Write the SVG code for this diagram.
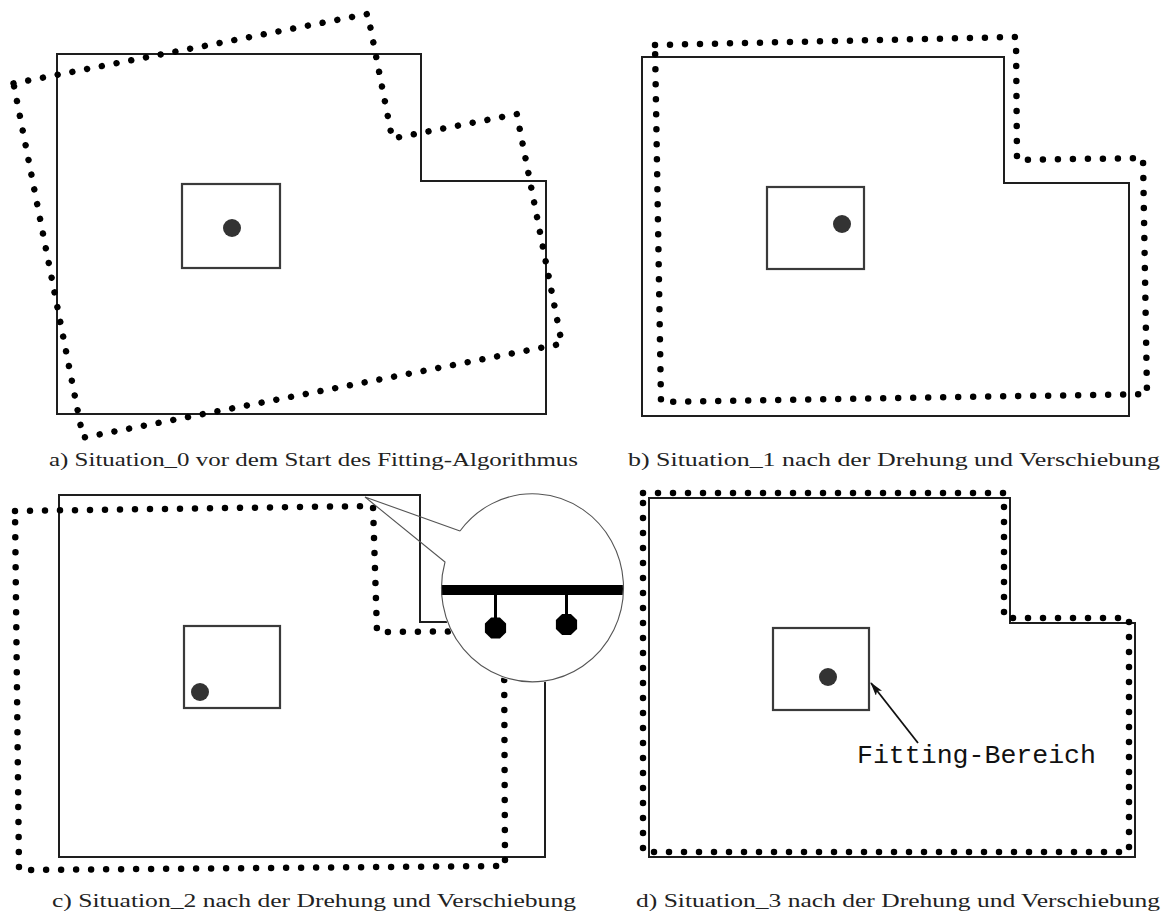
<svg xmlns="http://www.w3.org/2000/svg" width="1168" height="920" viewBox="0 0 1168 920">
  <style>
    .outline { fill: none; stroke: #1e1e1e; stroke-width: 2; }
    .dotted { fill: none; stroke: #000; stroke-width: 6.5; stroke-linecap: round; stroke-linejoin: round; stroke-dasharray: 0 15; }
    .box { fill: none; stroke: #3a3a3a; stroke-width: 2.2; }
    .pt { fill: #333; }
    .caption { font-family: "Liberation Serif", "Times New Roman", serif; font-size: 19px; fill: #222; }
    .label { font-family: "Liberation Mono", "Courier New", monospace; font-size: 25px; fill: #111; }
    .thin { fill: none; stroke: #555; stroke-width: 1.1; }
    .pin { stroke: #000; stroke-width: 3; }
  </style>
  <defs>
    <marker id="head" viewBox="0 0 14 8" refX="13" refY="4" markerWidth="14" markerHeight="8" markerUnits="userSpaceOnUse" orient="auto">
      <path d="M0,0 L14,4 L0,8 L3,4 Z" fill="#111"/>
    </marker>
    <clipPath id="lens">
      <ellipse cx="532" cy="589" rx="91" ry="94"/>
    </clipPath>
    <polygon id="octagon" points="10.6,4.4 4.4,10.6 -4.4,10.6 -10.6,4.4 -10.6,-4.4 -4.4,-10.6 4.4,-10.6 10.6,-4.4" fill="#000"/>
  </defs>

  <rect width="1168" height="920" fill="#fff"/>

  <!-- a) initial situation: rotated measured contour over the target outline -->
  <g id="panel-a">
    <path class="outline" d="M57,54 H421 V181 H546 V414 H57 Z"/>
    <path class="dotted" transform="translate(13.5,83.4) rotate(-11.1)" d="M0,0 H361 V127 H488 V361 H0 Z"/>
    <rect class="box" x="182" y="184" width="98" height="84"/>
    <circle class="pt" cx="232" cy="228" r="9"/>
    <text class="caption" x="49" y="466" textLength="529" lengthAdjust="spacingAndGlyphs">a) Situation_0 vor dem Start des Fitting-Algorithmus</text>
  </g>

  <!-- b) after first rotation and shift -->
  <g id="panel-b">
    <path class="outline" d="M642,57 H1004 V183 H1129 V416 H642 Z"/>
    <path class="dotted" d="M655,45 L1016,37 L1017,160 L1143,158 L1147,394 L661,402 Z"/>
    <rect class="box" x="767" y="187" width="97" height="82"/>
    <circle class="pt" cx="842" cy="224" r="9"/>
    <text class="caption" x="628" y="466" textLength="532" lengthAdjust="spacingAndGlyphs">b) Situation_1 nach der Drehung und Verschiebung</text>
  </g>

  <!-- c) second step, with collision detail -->
  <g id="panel-c">
    <path class="outline" d="M59,495 H420 V622 H545 V857 H59 Z"/>
    <path class="dotted" d="M15,511 L373,506 L377,632 L504,631 L505,866 L19,870 Z"/>
    <rect class="box" x="184" y="626" width="96" height="82"/>
    <circle class="pt" cx="200" cy="692" r="9"/>
    <text class="caption" x="52" y="907" textLength="524" lengthAdjust="spacingAndGlyphs">c) Situation_2 nach der Drehung und Verschiebung</text>
  </g>

  <!-- magnified corner: edge with two contact points -->
  <g id="magnifier">
    <ellipse cx="532" cy="589" rx="91" ry="94" fill="#fff"/>
    <g clip-path="url(#lens)">
      <rect x="438" y="585" width="190" height="10" fill="#000"/>
      <line class="pin" x1="495.5" y1="595" x2="495.5" y2="620"/>
      <line class="pin" x1="566.5" y1="595" x2="566.5" y2="616"/>
      <use href="#octagon" x="495.5" y="628"/>
      <use href="#octagon" x="566.5" y="624.5"/>
    </g>
  </g>

  <!-- d) final fitted situation -->
  <g id="panel-d">
    <path class="outline" d="M649,498 H1010 V623 H1135 V857 H649 Z"/>
    <path class="dotted" d="M643,493 H1004 V618 H1129 V852 H643 Z"/>
    <rect class="box" x="773" y="628" width="96" height="82"/>
    <circle class="pt" cx="828" cy="677" r="9"/>
    <text class="label" x="857" y="763" textLength="239" lengthAdjust="spacingAndGlyphs">Fitting-Bereich</text>
    <text class="caption" x="636" y="907" textLength="524" lengthAdjust="spacingAndGlyphs">d) Situation_3 nach der Drehung und Verschiebung</text>
  </g>

  <!-- connectors: callout of the magnifier and the label arrow -->
  <g id="connectors">
    <path class="thin" d="M460,531 L365,497 L445,562 A91,94 0 1 0 460,531"/>
    <line x1="918" y1="743" x2="871" y2="683" stroke="#111" stroke-width="1.8" marker-end="url(#head)"/>
  </g>
</svg>
